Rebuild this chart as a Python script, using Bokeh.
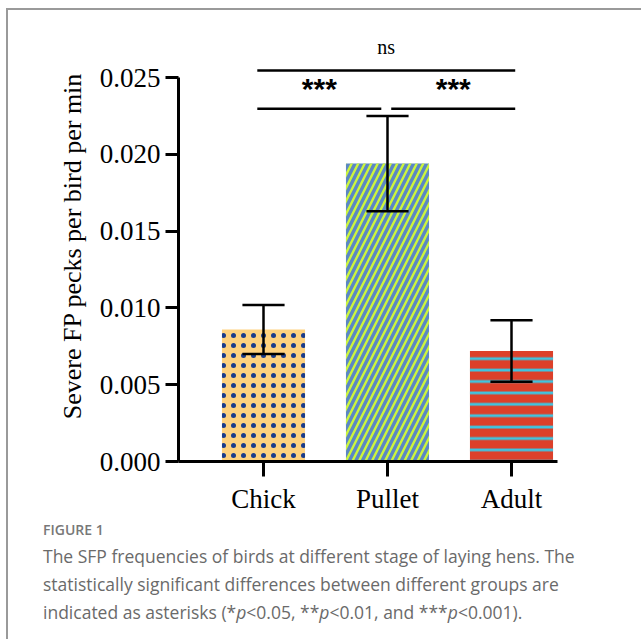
from bokeh.plotting import figure
from bokeh.models import Range1d, FixedTicker, PrintfTickFormatter, Div
from bokeh.layouts import column
from bokeh.core.properties import value
from bokeh.embed import file_html
from bokeh.resources import INLINE

# ---- data ----
groups = ["Chick", "Pullet", "Adult"]
means = [0.0086, 0.0194, 0.0072]
errors = [0.0016, 0.0031, 0.0020]
y_ticks = [0.000, 0.005, 0.010, 0.015, 0.020, 0.025]

fill_colors = ["#FFD27F", "#5B87C4", "#DC402A"]
hatch_colors = ["#1B3C8C", "#CCF53C", "#3FC4E0"]
hatch_patterns = ["dot", "right_diagonal_line", "horizontal_line"]
hatch_scales = [10, 13, 11.4]
hatch_weights = [2.0, 2.4, 2.8]

# significance brackets: (x start, x end, y, label, label y)
sig_x0 = [-0.05, 1.03, -0.05]
sig_x1 = [0.95, 2.03, 2.03]
sig_y = [0.02298, 0.02298, 0.02546]
sig_labels = ["***", "***", "ns"]
sig_label_y = [0.02432, 0.02432, 0.02702]

FONT = "Liberation Serif"

xs = list(range(len(groups)))

p = figure(width=633, height=507, output_backend="svg", toolbar_location=None,
           x_range=Range1d(-0.6855, 2.371), y_range=Range1d(0, 0.02807),
           min_border_left=170, min_border_right=84, min_border_top=20,
           min_border_bottom=56)
p.outline_line_color = None
p.grid.grid_line_color = None
p.background_fill_color = "white"
p.border_fill_color = "white"

for i in xs:
    p.vbar(x=[xs[i]], top=[means[i]], bottom=0, width=0.67,
           fill_color=fill_colors[i], line_color=None,
           hatch_pattern=hatch_patterns[i], hatch_color=hatch_colors[i],
           hatch_scale=hatch_scales[i], hatch_weight=hatch_weights[i])

# error bars
lo = [m - e for m, e in zip(means, errors)]
hi = [m + e for m, e in zip(means, errors)]
cap = 0.17
p.segment(x0=xs, y0=lo, x1=xs, y1=hi, line_color="black", line_width=2.5)
p.segment(x0=[x - cap for x in xs], y0=hi, x1=[x + cap for x in xs], y1=hi,
          line_color="black", line_width=2.5)
p.segment(x0=[x - cap for x in xs], y0=lo, x1=[x + cap for x in xs], y1=lo,
          line_color="black", line_width=2.5)

# significance brackets
p.segment(x0=sig_x0, y0=sig_y, x1=sig_x1, y1=sig_y, line_color="black", line_width=2.5)
mid = [(a + b) / 2 for a, b in zip(sig_x0, sig_x1)]
p.text(x=mid[:2], y=sig_label_y[:2], text=sig_labels[:2], text_align="center",
       text_baseline="middle", text_font=value("Liberation Sans"),
       text_font_style="bold", text_font_size="30px", text_color="black")
p.text(x=mid[2:], y=sig_label_y[2:], text=sig_labels[2:], text_align="center",
       text_baseline="middle", text_font=value(FONT),
       text_font_size="20px", text_color="black")

# y axis
ya = p.yaxis[0]
ya.ticker = FixedTicker(ticks=y_ticks)
ya.formatter = PrintfTickFormatter(format="%.3f")
ya.bounds = (0, 0.025)
ya.axis_line_width = 3
ya.major_tick_line_width = 3
ya.major_tick_out = 13
ya.major_tick_in = 0
ya.minor_tick_line_color = None
ya.major_label_text_font = FONT
ya.major_label_text_font_size = "27px"
ya.major_label_text_color = "black"
ya.major_label_standoff = 5
ya.axis_label = "Severe FP pecks per bird per min"
ya.axis_label_text_font = FONT
ya.axis_label_text_font_style = "normal"
ya.axis_label_text_font_size = "26px"
ya.axis_label_text_color = "black"
ya.axis_label_standoff = 10

# x axis
xa = p.xaxis[0]
xa.ticker = FixedTicker(ticks=xs)
xa.major_label_overrides = {i: g for i, g in zip(xs, groups)}
xa.axis_line_width = 3
xa.major_tick_line_width = 3
xa.major_tick_out = 15
xa.major_tick_in = 0
xa.minor_tick_line_color = None
xa.major_label_text_font = FONT
xa.major_label_text_font_size = "27px"
xa.major_label_text_color = "black"
xa.major_label_standoff = 7

caption = Div(
    width=633, height=112,
    text=(
        '<div style="font-family:\'Open Sans\'; color:#6a6a6a; padding-left:30px; '
        'padding-top:0px; white-space:nowrap;">'
        '<div style="font-size:14px; font-weight:600; color:#787878; line-height:16px;">FIGURE 1</div>'
        '<div style="font-size:17.5px; line-height:28px; margin-top:4px;">'
        'The SFP frequencies of birds at different stage of laying hens. The<br>'
        'statistically significant differences between different groups are<br>'
        'indicated as asterisks (*<i>p</i>&lt;0.05, **<i>p</i>&lt;0.01, and ***<i>p</i>&lt;0.001).'
        '</div></div>'
    ),
)

layout = column(p, caption, styles={"border-top": "2px solid #9a9a9a",
                                    "border-left": "2px solid #9a9a9a",
                                    "margin-left": "6px", "margin-top": "8px"})

open("out.html", "w").write(file_html(layout, INLINE))
